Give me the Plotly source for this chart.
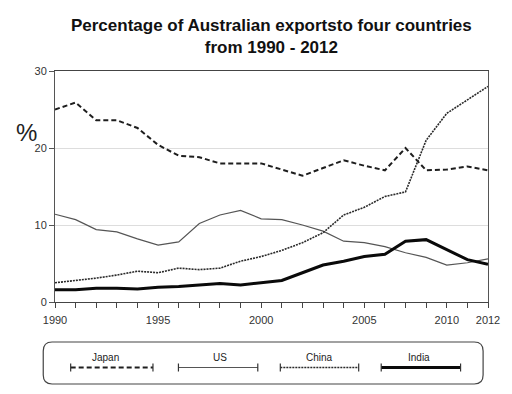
import plotly.graph_objects as go

# data points (22 evenly spaced points on the x axis)
point_index = list(range(22))
tick_labels = ["1990", "", "", "", "", "1995", "", "", "", "", "2000", "", "", "", "", "2005",
               "", "", "", "2010", "", "2012"]

japan = [25.0, 25.9, 23.6, 23.6, 22.6, 20.4, 19.0, 18.8, 18.0, 18.0, 18.0, 17.2, 16.4, 17.4,
         18.4, 17.7, 17.1, 20.0, 17.1, 17.2, 17.6, 17.1]
us = [11.4, 10.7, 9.4, 9.1, 8.2, 7.4, 7.8, 10.2, 11.3, 11.9, 10.8, 10.7, 10.0, 9.2,
      7.9, 7.7, 7.2, 6.4, 5.8, 4.8, 5.1, 5.6]
china = [2.5, 2.8, 3.1, 3.5, 4.0, 3.8, 4.4, 4.2, 4.4, 5.3, 5.9, 6.7, 7.7, 9.0,
         11.3, 12.3, 13.7, 14.3, 21.0, 24.5, 26.2, 28.0]
india = [1.6, 1.6, 1.8, 1.8, 1.7, 1.9, 2.0, 2.2, 2.4, 2.2, 2.5, 2.8, 3.8, 4.8,
         5.3, 5.9, 6.2, 7.9, 8.1, 6.8, 5.5, 4.9]

series_names = ["Japan", "US", "China", "India"]

W, H = 512, 394
L, R, T, B = 55, 497, 71, 302

styles = {
    "Japan": dict(color="#1e1e1e", width=2, dash="5px,3px"),
    "US": dict(color="#555555", width=1.2, dash="solid"),
    "China": dict(color="#2a2a2a", width=1.6, dash="2px,1px"),
    "India": dict(color="#0a0a0a", width=3, dash="solid"),
}

fig = go.Figure()
for name, vals in zip(series_names, [japan, us, china, india]):
    fig.add_trace(go.Scatter(x=point_index, y=vals, mode="lines", name=name,
                             line=styles[name], showlegend=False))


def px(x):
    return (x - L) / (R - L)


def py(y):
    return (B - y) / (B - T)


shapes = []
annotations = []

# rounded legend box
x0, x1, y0, y1, r = 43, 492, 342, 384, 9
path = (f"M {px(x0 + r)},{py(y0)} L {px(x1 - r)},{py(y0)} "
        f"Q {px(x1)},{py(y0)} {px(x1)},{py(y0 + r)} L {px(x1)},{py(y1 - r)} "
        f"Q {px(x1)},{py(y1)} {px(x1 - r)},{py(y1)} L {px(x0 + r)},{py(y1)} "
        f"Q {px(x0)},{py(y1)} {px(x0)},{py(y1 - r)} L {px(x0)},{py(y0 + r)} "
        f"Q {px(x0)},{py(y0)} {px(x0 + r)},{py(y0)} Z")
shapes.append(dict(type="path", xref="paper", yref="paper", path=path,
                   line=dict(color="#444444", width=1.2)))

legend_pos = [(71, 155, 107), (181, 262, 223), (285, 365, 325), (388, 469, 427)]
ly = 367.5
for name, (a, b, c) in zip(series_names, legend_pos):
    st = styles[name]
    shapes.append(dict(type="line", xref="paper", yref="paper",
                       x0=px(a), x1=px(b), y0=py(ly), y1=py(ly),
                       line=dict(color=st["color"], width=st["width"], dash=st["dash"])))
    for xx in (a, b):
        shapes.append(dict(type="line", xref="paper", yref="paper",
                           x0=px(xx), x1=px(xx), y0=py(ly - 4), y1=py(ly + 4),
                           line=dict(color="#333333", width=1.2)))
    annotations.append(dict(text=name, xref="paper", yref="paper", x=px(c), y=py(357),
                            showarrow=False, font=dict(size=10, color="#222222"),
                            xanchor="center", yanchor="middle"))

annotations.append(dict(text="%", xref="paper", yref="paper", x=px(26), y=py(132),
                        showarrow=False, font=dict(size=24, color="#222222"),
                        xanchor="center", yanchor="middle"))

fig.update_layout(
    width=W, height=H,
    margin=dict(l=L, r=W - R, t=T, b=H - B),
    paper_bgcolor="white", plot_bgcolor="white",
    font=dict(family="Liberation Sans, Arial, sans-serif", color="#222222"),
    title=dict(text="<b>Percentage of Australian exportsto four countries<br>from 1990 - 2012</b>",
               x=0.53, xanchor="center", y=1 - 31 / H, yanchor="middle",
               font=dict(size=17, color="#111111")),
    xaxis=dict(range=[0, 21], tickvals=point_index, ticktext=tick_labels,
               showgrid=False, zeroline=False, showline=True, linecolor="#444444",
               linewidth=1, mirror=True, ticks="outside", ticklen=5, tickcolor="#444444",
               ticklabelstandoff=3,
               tickfont=dict(size=11, color="#333333")),
    yaxis=dict(range=[0, 30], tickvals=[0, 10, 20, 30], showgrid=True,
               gridcolor="#dddddd", zeroline=False, showline=True, linecolor="#555555",
               linewidth=1, mirror=True, ticks="outside", ticklen=5, tickcolor="#555555",
               tickfont=dict(size=11, color="#333333")),
    shapes=shapes, annotations=annotations,
)

fig.write_html("out.html")
